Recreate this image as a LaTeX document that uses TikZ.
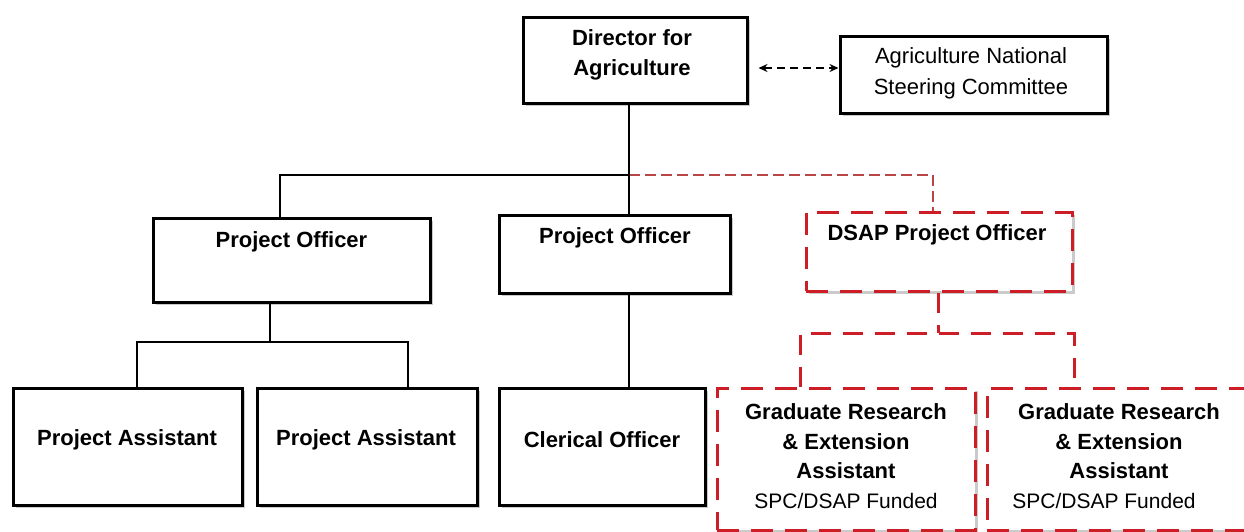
\documentclass[tikz,border=0pt]{standalone}
\usepackage{fontspec}
\setmainfont{Liberation Sans}
\usetikzlibrary{shadows,arrows.meta}
\definecolor{dred}{RGB}{205,30,40}
\definecolor{tred}{RGB}{185,70,70}
\begin{document}
\begin{tikzpicture}[x=1pt,y=-1pt,
  shad/.style={drop shadow={shadow xshift=2.5pt,shadow yshift=-2.5pt,fill=black!35,opacity=0.6}},
  box/.style={draw=black,line width=3pt,fill=white,shad,inner sep=0pt},
  rbox/.style={draw=dred,line width=3pt,fill=white,shad,inner sep=0pt,dash pattern=on 22pt off 12pt},
  conn/.style={draw=black,line width=2.4pt},
  rconn/.style={draw=dred,line width=3pt,dash pattern=on 20pt off 12pt},
  tconn/.style={draw=tred,line width=1.8pt,dash pattern=on 11pt off 5pt},
  bt/.style={font=\fontsize{22}{29.5}\selectfont\bfseries,align=center,inner sep=0pt},
  rt/.style={font=\fontsize{22}{31}\selectfont,align=center,inner sep=0pt},
]
\useasboundingbox (0,0) rectangle (1244,531);
\clip (0,0) rectangle (1244,531);

% boxes
\node[box,minimum width=224pt,minimum height=86pt] (dir) at (635,60) {};
\node[box,minimum width=267pt,minimum height=77pt] (com) at (973.5,74.5) {};
\node[box,minimum width=277pt,minimum height=84pt] (po1) at (291.5,260) {};
\node[box,minimum width=231pt,minimum height=78pt] (po2) at (614.5,254) {};
\node[rbox,minimum width=266pt,minimum height=79pt] (dsap) at (939,251.5) {};
\node[box,minimum width=229pt,minimum height=117pt] (pa1) at (127.5,446.5) {};
\node[box,minimum width=220pt,minimum height=117pt] (pa2) at (367,446.5) {};
\node[box,minimum width=206pt,minimum height=117pt] (cler) at (602,446.5) {};
\node[rbox,minimum width=258pt,minimum height=142pt] (g1) at (846,459) {};
\node[rbox,minimum width=265pt,minimum height=142pt] (g2) at (1119.5,459) {};

% texts
\node[bt] (tdir) at (632,55) {Director for\\Agriculture};
\node[rt] (tcom) at (971,73.5) {Agriculture National\\Steering Committee};
\node[bt] (tpo1) at (291.5,242) {Project Officer};
\node[bt] (tpo2) at (615,238) {Project Officer};
\node[bt] (tdsap) at (937,235) {DSAP Project Officer};
\node[bt] (tpa1) at (127,440) {Project Assistant};
\node[bt] (tpa2) at (366,440) {Project Assistant};
\node[bt] (tcler) at (602,440) {Clerical Officer};
\node[bt] (tg1) at (846,456) {Graduate Research\\\& Extension\\Assistant\\{\mdseries\fontsize{21}{29.5}\selectfont SPC/DSAP Funded}};
\node[bt] (tg2) at (1119,456) {Graduate Research\\\& Extension\\Assistant\\{\mdseries\fontsize{21}{29.5}\selectfont SPC/DSAP Funded\hspace*{30pt}}};

% helper coordinates
\coordinate (j1) at (629,175);
\coordinate (ja) at (280,175);
\coordinate (r1) at (933,175);
\coordinate (ay) at (0,68);
\coordinate (k) at (270,342);
\coordinate (ka) at (137,342);
\coordinate (kb) at (408,342);
\coordinate (m) at (938,333);
\coordinate (ma) at (800,333);
\coordinate (mb) at (1074,333);

% connectors
\draw[tconn] (j1) -- (r1) -- (r1 |- dsap.north);
\draw[conn] (dir.south -| j1) -- (j1) -- (ja) -- (ja |- po1.north);
\draw[conn] (j1) -- (j1 |- po2.north);
\draw[conn] (po1.south -| k) -- (k);
\draw[conn] (ka |- pa1.north) -- (ka) -- (kb) -- (kb |- pa2.north);
\draw[conn] (po2.south -| j1) -- (j1 |- cler.north);
\draw[rconn] (dsap.south -| m) -- (m);
\draw[rconn] (ma |- g1.north) -- (ma) -- (mb) -- (mb |- g2.north);
\draw[line width=1.5pt,dash pattern=on 8pt off 5pt,{Stealth[length=9pt,width=8pt]}-{Stealth[length=9pt,width=8pt]},shorten <=10pt] (dir.east |- ay) -- (com.west |- ay);
\end{tikzpicture}
\end{document}
